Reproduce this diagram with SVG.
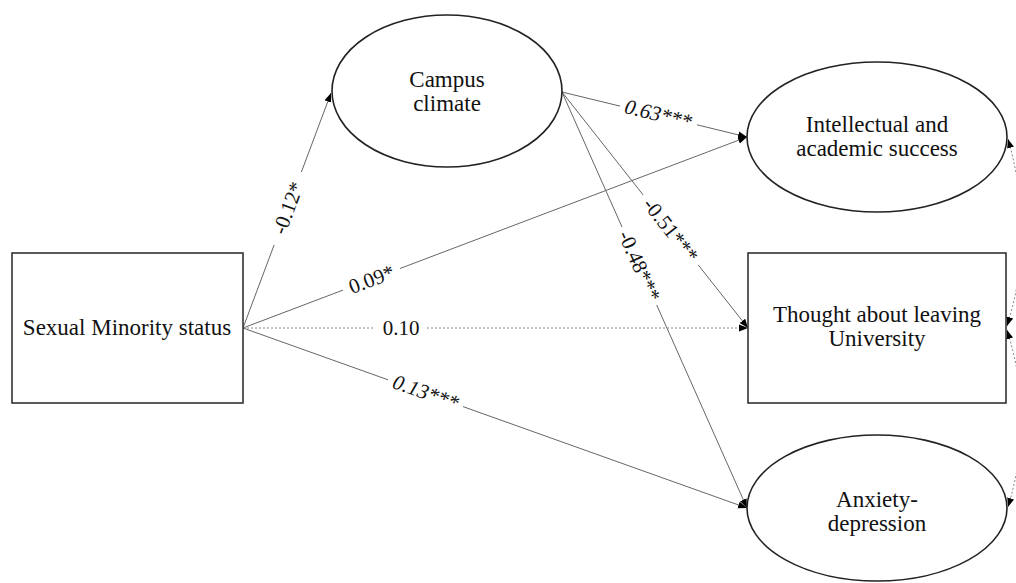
<svg xmlns="http://www.w3.org/2000/svg" width="1016" height="583" viewBox="0 0 1016 583">
<style>
.node{fill:#fff;stroke:#222;stroke-width:1.6}
.box{fill:#fff;stroke:#333;stroke-width:1.6}
.t{font-family:"Liberation Serif",serif;font-size:23px;fill:#111;text-anchor:middle}
.lab{font-family:"Liberation Serif",serif;font-size:21px;fill:#111;text-anchor:middle}
.it{font-style:italic}
.c{stroke:#666;stroke-width:1;fill:none}
.d{stroke:#888;stroke-width:1;fill:none;stroke-dasharray:2 2}
</style>
<defs>
<marker id="ah" markerUnits="userSpaceOnUse" markerWidth="10" markerHeight="8" refX="9" refY="4" orient="auto-start-reverse">
<path d="M0,0.5 L9,4 L0,7.5 z" fill="#000"/>
</marker>
</defs>
<g id="connectors">
<line class="c" x1="243" y1="328" x2="274.1" y2="245"/>
<line class="c" x1="301.4" y1="172" x2="331" y2="93" marker-end="url(#ah)"/>
<line class="c" x1="562" y1="92" x2="620" y2="106.1"/>
<line class="c" x1="697" y1="124.8" x2="747" y2="137" marker-end="url(#ah)"/>
<line class="c" x1="562" y1="92" x2="643.2" y2="195"/>
<line class="c" x1="698.3" y1="265" x2="748" y2="328" marker-end="url(#ah)"/>
<line class="c" x1="562" y1="92" x2="622" y2="227"/>
<line class="c" x1="656.7" y1="305" x2="747" y2="508" marker-end="url(#ah)"/>
<line class="c" x1="243" y1="328" x2="343" y2="290.1"/>
<line class="c" x1="400" y1="268.5" x2="747" y2="137" marker-end="url(#ah)"/>
<line class="d" x1="243" y1="328" x2="375" y2="328"/>
<line class="d" x1="427" y1="328" x2="748" y2="328" marker-end="url(#ah)"/>
<line class="c" x1="243" y1="328" x2="388" y2="379.8"/>
<line class="c" x1="463" y1="406.6" x2="747" y2="508" marker-end="url(#ah)"/>
<path class="d" d="M1008,139 C1026,200 1026,268 1007,326" marker-start="url(#ah)" marker-end="url(#ah)"/>
<path class="d" d="M1007,330 C1026,390 1026,448 1008,507" marker-start="url(#ah)" marker-end="url(#ah)"/>
<text class="lab" transform="translate(288,208) rotate(-69.47)" dy="7">-0.12*</text>
<text class="lab it" transform="translate(658,115) rotate(13.7)" dy="6">0.63***</text>
<text class="lab" transform="translate(670.7,230) rotate(51.76)" dy="7">-0.51***</text>
<text class="lab" transform="translate(639.4,266) rotate(66.03)" dy="7">-0.48***</text>
<text class="lab" transform="translate(371.5,279.3) rotate(-20.76)" dy="7">0.09*</text>
<text class="lab" x="401" y="335">0.10</text>
<text class="lab it" transform="translate(425.5,393.2) rotate(19.65)" dy="6">0.13***</text>
</g>
<g id="sexual-minority">
<rect class="box" x="12" y="253" width="231" height="150"/>
<text class="t" x="127" y="335">Sexual Minority status</text>
</g>
<g id="campus-climate">
<ellipse class="node" cx="447" cy="91" rx="115" ry="76"/>
<text class="t" x="447" y="87">Campus</text>
<text class="t" x="447" y="111">climate</text>
</g>
<g id="intellectual">
<ellipse class="node" cx="877" cy="137" rx="130" ry="75"/>
<text class="t" x="877" y="132">Intellectual and</text>
<text class="t" x="877" y="156">academic success</text>
</g>
<g id="thought-leaving">
<rect class="box" x="748" y="253" width="258" height="150"/>
<text class="t" x="877" y="322">Thought about leaving</text>
<text class="t" x="877" y="346">University</text>
</g>
<g id="anxiety">
<ellipse class="node" cx="877" cy="508" rx="130" ry="73"/>
<text class="t" x="877" y="507">Anxiety-</text>
<text class="t" x="877" y="531">depression</text>
</g>
</svg>
